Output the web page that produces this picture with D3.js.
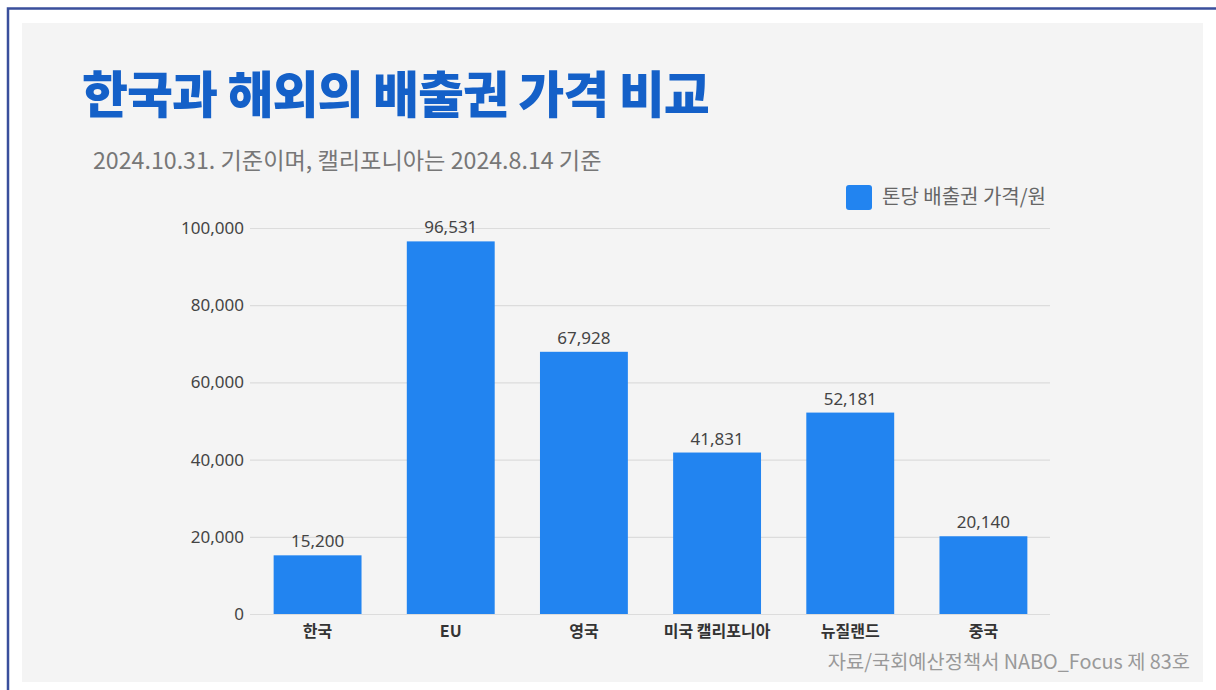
<!DOCTYPE html>
<html>
<head>
<meta charset="utf-8">
<script src="https://cdn.jsdelivr.net/npm/d3@7"></script>
<style>
  body { margin: 0; background: #fff; }
  svg { display: block; font-family: "Noto Sans CJK KR", "Noto Sans", sans-serif; }
</style>
</head>
<body>
<div id="chart"></div>
<script>
var width = 1216,
    height = 690;

// data
var categories = ["한국", "EU", "영국", "미국 캘리포니아", "뉴질랜드", "중국"];
var prices = [15200, 96531, 67928, 41831, 52181, 20140];
var yTicks = [0, 20000, 40000, 60000, 80000, 100000];
var seriesName = "톤당 배출권 가격/원";

var barColor = "#2284f0";

var svg = d3.select("#chart").append("svg")
    .attr("width", width)
    .attr("height", height);

// frame
svg.append("rect")
    .attr("x", 22).attr("y", 23)
    .attr("width", 1181).attr("height", 659)
    .attr("fill", "#f4f4f4");

svg.append("path")
    .attr("d", "M8,690 V8.5 H1216")
    .attr("fill", "none")
    .attr("stroke", "#3a4f9c")
    .attr("stroke-width", 2.5);

// titles
svg.append("text")
    .attr("x", 82).attr("y", 113)
    .attr("font-size", 50)
    .attr("font-weight", 900)
    .attr("fill", "#1460c8")
    .attr("letter-spacing", -1)
    .text("한국과 해외의 배출권 가격 비교");

svg.append("text")
    .attr("x", 93).attr("y", 169)
    .attr("font-size", 23.2)
    .attr("fill", "#777")
    .text("2024.10.31. 기준이며, 캘리포니아는 2024.8.14 기준");

// scales
var x = d3.scaleBand()
    .domain(categories)
    .range([251, 1050])
    .paddingInner(0.34)
    .paddingOuter(0.17);

var y = d3.scaleLinear()
    .domain([0, 100000])
    .range([614, 228]);

// grid + y axis
var yAxis = d3.axisLeft(y)
    .tickValues(yTicks)
    .tickSize(-(1050 - 250))
    .tickPadding(6)
    .tickFormat(d3.format(","));

var gy = svg.append("g")
    .attr("transform", "translate(250,0)")
    .call(yAxis);

gy.select(".domain").remove();
gy.selectAll(".tick line")
    .attr("stroke", "#dcdcdc")
    .attr("stroke-width", 1.2);
gy.selectAll(".tick text")
    .attr("x", -6)
    .attr("font-size", 17)
    .attr("fill", "#444")
    .attr("font-family", "'Noto Sans', 'Noto Sans CJK KR', sans-serif");

// bars
svg.append("g").selectAll("rect")
    .data(categories)
    .join("rect")
    .attr("x", d => x(d))
    .attr("y", (d, i) => y(prices[i]))
    .attr("width", x.bandwidth())
    .attr("height", (d, i) => y(0) - y(prices[i]))
    .attr("fill", barColor);

// value labels
svg.append("g").selectAll("text")
    .data(categories)
    .join("text")
    .attr("x", d => x(d) + x.bandwidth() / 2)
    .attr("y", (d, i) => y(prices[i]) - 8)
    .attr("text-anchor", "middle")
    .attr("font-size", 17)
    .attr("fill", "#444")
    .attr("font-family", "'Noto Sans', 'Noto Sans CJK KR', sans-serif")
    .text((d, i) => d3.format(",")(prices[i]));

// x axis
var xAxis = d3.axisBottom(x).tickSize(0).tickPadding(12);
var gx = svg.append("g")
    .attr("transform", "translate(0,614)")
    .call(xAxis);
gx.select(".domain").remove();
gx.selectAll(".tick text")
    .attr("font-size", 16)
    .attr("font-weight", 700)
    .attr("fill", "#333")
    .attr("font-family", "'Noto Sans CJK KR', sans-serif");

// legend
var legend = svg.append("g").attr("transform", "translate(846,185)");
legend.append("rect")
    .attr("width", 26).attr("height", 25)
    .attr("rx", 3)
    .attr("fill", barColor);
legend.append("text")
    .attr("x", 36).attr("y", 19)
    .attr("font-size", 20)
    .attr("fill", "#666")
    .text(seriesName);

// source
svg.append("text")
    .attr("x", 1190).attr("y", 669)
    .attr("text-anchor", "end")
    .attr("font-size", 19.8)
    .attr("fill", "#999")
    .text("자료/국회예산정책서 NABO_Focus 제 83호");
</script>
</body>
</html>
